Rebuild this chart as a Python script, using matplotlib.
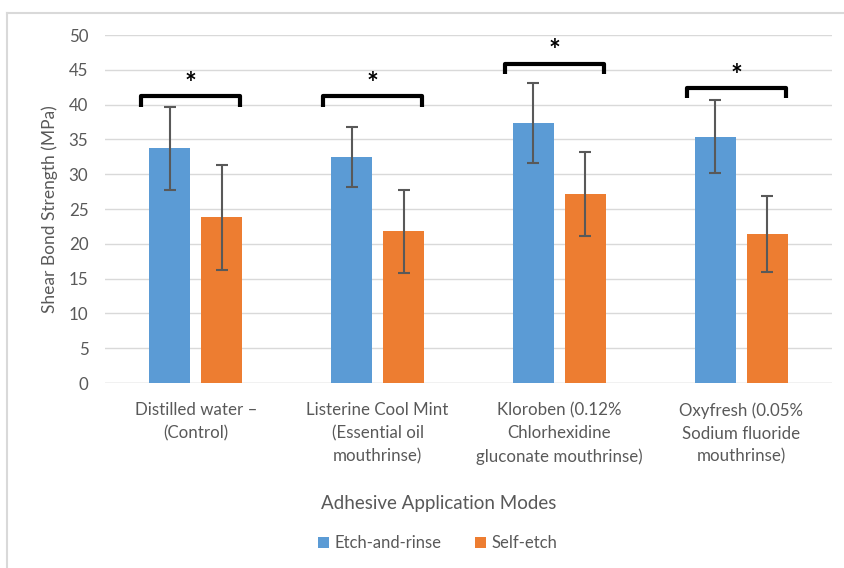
import matplotlib
matplotlib.use("Agg")
import matplotlib.pyplot as plt
from matplotlib.lines import Line2D
import numpy as np

plt.rcParams['font.family'] = ['Lato', 'DejaVu Sans']

# Data
categories = ["Distilled water \u2013\n(Control)",
              "Listerine Cool Mint\n(Essential oil\nmouthrinse)",
              "Kloroben (0.12%\nChlorhexidine\ngluconate mouthrinse)",
              "Oxyfresh (0.05%\nSodium fluoride\nmouthrinse)"]
etch_rinse = [33.7, 32.5, 37.4, 35.4]
etch_rinse_sd = [5.9, 4.3, 5.75, 5.2]
self_etch = [23.8, 21.8, 27.1, 21.4]
self_etch_sd = [7.5, 6.0, 6.05, 5.4]
bracket_y = [41.2, 41.2, 45.9, 42.4]

gray = '#595959'
blue = '#5B9BD5'
orange = '#ED7D31'

fig = plt.figure(figsize=(8.44, 5.68), dpi=100)
ax = fig.add_axes([105/844, 1 - 383/568, 727/844, 348/568])

x = np.arange(len(categories))
w = 0.225
off = 0.143
ax.bar(x - off, etch_rinse, w, color=blue, label='Etch-and-rinse', zorder=2)
ax.bar(x + off, self_etch, w, color=orange, label='Self-etch', zorder=2)
ax.errorbar(x - off, etch_rinse, yerr=etch_rinse_sd, fmt='none', ecolor=gray,
            elinewidth=1.5, capsize=4, capthick=1.5, zorder=3)
ax.errorbar(x + off, self_etch, yerr=self_etch_sd, fmt='none', ecolor=gray,
            elinewidth=1.5, capsize=4, capthick=1.5, zorder=3)

# significance brackets
for xi, by in zip(x, bracket_y):
    x0, x1 = xi - 0.30, xi + 0.245
    ax.plot([x0, x0, x1, x1], [by - 1.5, by, by, by - 1.5], color='black',
            lw=3, solid_joinstyle='round', solid_capstyle='butt', zorder=4)
    ax.text((x0 + x1) / 2, by - 0.1, '*', ha='center', va='bottom',
            fontsize=20, fontweight='bold', color='black')

ax.set_xlim(-0.5, 3.5)
ax.set_ylim(0, 50)
ax.set_yticks(range(0, 51, 5))
ax.set_xticks(x)
ax.set_xticklabels(categories, fontsize=12.2, color=gray, linespacing=1.52)
ax.tick_params(axis='y', labelsize=12.2, labelcolor=gray, length=0, pad=12)
ax.tick_params(axis='x', length=0, pad=14)
ax.grid(axis='y', color='#D9D9D9', lw=1, zorder=0)
for s in ax.spines.values():
    s.set_visible(False)
ax.axhline(0, color='#D9D9D9', lw=1, zorder=1)

ax.set_ylabel('Shear Bond Strength (MPa)', fontsize=12.5, color=gray, labelpad=8)
fig.text(439/844, 1 - 503/568, 'Adhesive Application Modes', ha='center', va='center',
         fontsize=13.5, color=gray)
fig.legend(loc='center', bbox_to_anchor=(438/844, 1 - 543/568), ncol=2, frameon=False,
           fontsize=12, handlelength=0.65, handleheight=0.65, handletextpad=0.35,
           columnspacing=2.0, labelcolor=gray)

# chart border (left and top visible)
fig.add_artist(Line2D([7/844, 7/844], [0, 1 - 13/568], color='#D9D9D9', lw=1.5))
fig.add_artist(Line2D([7/844, 1], [1 - 13/568, 1 - 13/568], color='#D9D9D9', lw=1.5))

fig.savefig('out.png', dpi=100)
